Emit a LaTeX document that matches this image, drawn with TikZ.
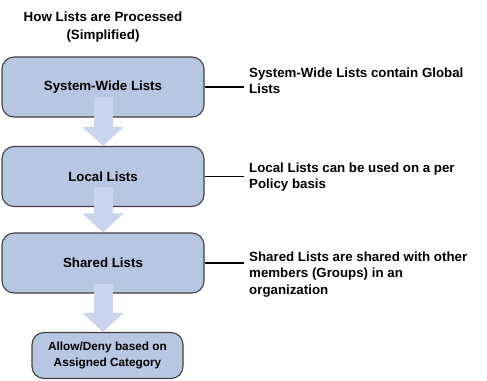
\documentclass[tikz,border=0pt]{standalone}
\usepackage{fontspec}
\setmainfont{Liberation Sans}
\usetikzlibrary{arrows.meta,shapes}
\definecolor{boxblue}{RGB}{183,198,225}
\definecolor{arrowblue}{RGB}{200,213,236}
\definecolor{edgegray}{RGB}{64,64,64}
\tikzstyle{listbox}=[rectangle,rounded corners=12pt,draw=edgegray,line width=1.1pt,fill=boxblue,minimum width=202pt,minimum height=60pt,inner sep=0pt,align=center,font=\fontsize{13.3}{17}\selectfont\bfseries]
\tikzstyle{notetext}=[anchor=north west,align=left,inner xsep=5pt,inner ysep=0pt,font=\fontsize{13.3}{16.5}\selectfont\bfseries]
\tikzstyle{flowarrow}=[arrowblue,line width=19pt,-{Triangle[width=40pt,length=19pt]}]
\tikzstyle{noteline}=[black,line width=1.3pt]

\begin{document}
\begin{tikzpicture}[x=1pt,y=-1pt]
\useasboundingbox (0,0) rectangle (487,380);
\node[align=center,inner sep=0pt,font=\fontsize{13.4}{18}\selectfont\bfseries] (title) at (103,27.5) {How Lists are Processed\\(Simplified)};
\node[listbox] (sys) at (103,87) {System-Wide Lists};
\node[listbox] (loc) at (103,176.5) {Local Lists};
\node[listbox] (shr) at (103,263) {Shared Lists};
\node[listbox,minimum width=151pt,minimum height=46pt,font=\fontsize{11.8}{16}\selectfont\bfseries] (cat) at (107.5,355.5) {Allow/Deny based on\\Assigned Category};
\draw[flowarrow]([yshift=21pt]sys.south)--(loc.north);
\draw[flowarrow]([yshift=20pt]loc.south)--(shr.north);
\draw[flowarrow]([yshift=10pt]shr.south)--(shr.south |- cat.north);
\node[notetext] (note1) at (244,67.5) {System-Wide Lists contain Global\\Lists};
\node[notetext] (note2) at (244,162.5) {Local Lists can be used on a per\\Policy basis};
\node[notetext] (note3) at (244,251.5) {Shared Lists are shared with other\\members (Groups) in an\\organization};
\draw[noteline](sys.east)--(sys.east -| note1.west);\draw[noteline](loc.east)--(loc.east -| note2.west);\draw[noteline](shr.east)--(shr.east -| note3.west);
\end{tikzpicture}
\end{document}
